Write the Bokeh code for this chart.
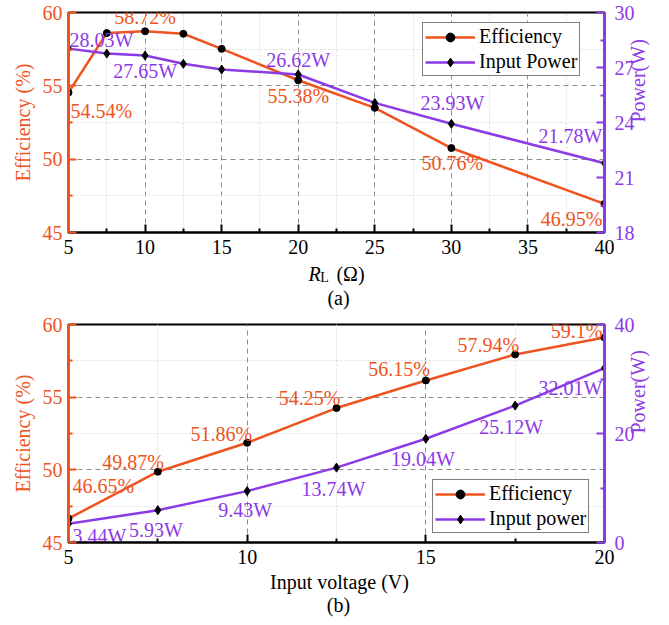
import math
from bokeh.plotting import figure
from bokeh.layouts import column
from bokeh.models import (Range1d, LinearAxis, FixedTicker, Legend, LegendItem,
                          Label, ColumnDataSource)
from bokeh.embed import file_html
from bokeh.resources import INLINE
from bokeh.core.properties import value

# ---- data: (a) load sweep ----
rl = [5, 7.5, 10, 12.5, 15, 20, 25, 30, 40]
eff_a = [54.54, 58.6, 58.72, 58.55, 57.52, 55.38, 53.5, 50.76, 46.95]
pwr_a = [28.03, 27.76, 27.65, 27.2, 26.89, 26.62, 25.07, 23.93, 21.78]

# ---- data: (b) input voltage sweep ----
vin = [5, 7.5, 10, 12.5, 15, 17.5, 20]
eff_b = [46.65, 49.87, 51.86, 54.25, 56.15, 57.94, 59.1]
pwr_b = [3.44, 5.93, 9.43, 13.74, 19.04, 25.12, 32.01]

ORANGE = "#EE5420"
PURPLE = "#8C3AE6"
FONT = "Liberation Serif"
FS = "20px"
W = 669


def style_fig(p, xticks, xminor, lticks, lminor, rname, rticks, rminor):
    p.outline_line_color = "black"
    p.outline_line_width = 2
    p.background_fill_color = "white"
    p.border_fill_color = "white"

    xa = p.xaxis[0]
    xa.ticker = FixedTicker(ticks=xticks, minor_ticks=xminor)
    xa.axis_line_color = "black"
    xa.axis_line_width = 2
    xa.major_tick_in = 8
    xa.major_tick_out = 0
    xa.minor_tick_in = 4
    xa.minor_tick_out = 0
    xa.major_tick_line_color = "black"
    xa.major_tick_line_width = 2
    xa.minor_tick_line_color = "black"
    xa.minor_tick_line_width = 2
    xa.major_label_text_font = FONT
    xa.major_label_text_font_size = FS
    xa.major_label_text_color = "black"
    xa.major_label_standoff = 7

    ya = p.yaxis[0]
    ya.ticker = FixedTicker(ticks=lticks, minor_ticks=lminor)
    ya.axis_line_color = ORANGE
    ya.axis_line_width = 3
    ya.major_tick_in = 8
    ya.major_tick_out = 0
    ya.minor_tick_in = 4
    ya.minor_tick_out = 0
    ya.major_tick_line_color = ORANGE
    ya.major_tick_line_width = 2
    ya.minor_tick_line_color = ORANGE
    ya.minor_tick_line_width = 2
    ya.major_label_text_font = FONT
    ya.major_label_text_font_size = FS
    ya.major_label_text_color = ORANGE
    ya.major_label_standoff = 6
    ya.axis_label = "Efficiency (%)"
    ya.axis_label_text_font = FONT
    ya.axis_label_text_font_size = FS
    ya.axis_label_text_font_style = "normal"
    ya.axis_label_text_color = ORANGE
    ya.axis_label_standoff = 6

    ra = LinearAxis(y_range_name=rname,
                    ticker=FixedTicker(ticks=rticks, minor_ticks=rminor))
    ra.axis_line_color = PURPLE
    ra.axis_line_width = 3
    ra.major_tick_in = 8
    ra.major_tick_out = 0
    ra.minor_tick_in = 4
    ra.minor_tick_out = 0
    ra.major_tick_line_color = PURPLE
    ra.major_tick_line_width = 2
    ra.minor_tick_line_color = PURPLE
    ra.minor_tick_line_width = 2
    ra.major_label_text_font = FONT
    ra.major_label_text_font_size = FS
    ra.major_label_text_color = PURPLE
    ra.major_label_standoff = 10
    ra.axis_label = "Power(W)"
    ra.axis_label_text_font = FONT
    ra.axis_label_text_font_size = FS
    ra.axis_label_text_font_style = "normal"
    ra.axis_label_text_color = PURPLE
    ra.axis_label_standoff = 0
    ra.axis_label_orientation = math.pi / 2
    p.add_layout(ra, "right")

    for g in (p.xgrid[0], p.ygrid[0]):
        g.grid_line_color = "#8c8c8c"
        g.grid_line_dash = "5 4"
        g.grid_line_width = 1
        g.minor_grid_line_color = "#dcdcdc"
        g.minor_grid_line_dash = "2 2"
        g.minor_grid_line_width = 1


def add_series(p, x, ye, yp, rname):
    le = p.line(x, ye, line_color=ORANGE, line_width=2.5)
    me = p.scatter(x, ye, marker="circle", size=7, fill_color="black",
                   line_color="black")
    lp = p.line(x, yp, line_color=PURPLE, line_width=2.5, y_range_name=rname)
    mp = p.scatter(x, yp, marker="diamond", size=9, fill_color="black",
                   line_color="black", y_range_name=rname)
    return [le, me], [lp, mp]


def add_labels(p, x, y, fmt, color, places, rname="default"):
    # places: per-point (align, dx, dy) or None to skip
    for xi, yi, pl in zip(x, y, places):
        if pl is None:
            continue
        align, dx, dy = pl
        src = ColumnDataSource(dict(x=[xi], y=[yi], t=[fmt(yi)]))
        p.text("x", "y", text="t", source=src, y_range_name=rname,
               x_offset=dx, y_offset=dy, text_align=align,
               text_baseline="middle", text_color=color,
               text_font=value(FONT), text_font_size=FS)


def add_legend(p, items, loc):
    leg = Legend(items=items, location=loc)
    leg.label_text_font = FONT
    leg.label_text_font_size = FS
    leg.label_text_color = "black"
    leg.border_line_color = "black"
    leg.border_line_width = 1.5
    leg.background_fill_alpha = 1
    leg.padding = 2
    leg.spacing = 2
    leg.margin = 0
    leg.glyph_width = 50
    leg.glyph_height = 22
    leg.label_height = 22
    leg.label_standoff = 4
    p.add_layout(leg)


def caption_strip(height):
    # blank strip under a chart that carries its axis title and panel tag
    s = figure(width=W, height=height, x_range=Range1d(0, W),
               y_range=Range1d(0, height), output_backend="svg",
               toolbar_location=None, x_axis_location=None,
               y_axis_location=None, min_border=0)
    s.grid.visible = False
    s.outline_line_color = None
    s.background_fill_color = "white"
    s.border_fill_color = "white"
    return s


def strip_label(s, x, y, text, size=FS, style="normal"):
    # x from the strip frame's left, y from the strip's bottom
    s.add_layout(Label(x=x, y=y, x_units="screen", y_units="screen", text=text,
                       text_font=FONT, text_font_size=size,
                       text_font_style=style, text_align="center",
                       text_baseline="middle", text_color="black"))


# ---------------- (a) ----------------
pa = figure(width=W, height=261, x_range=Range1d(5, 40), y_range=Range1d(45, 60),
            output_backend="svg", toolbar_location=None,
            min_border_left=68, min_border_right=65, min_border_top=12,
            min_border_bottom=29)
pa.extra_y_ranges = {"pw": Range1d(18, 30)}
style_fig(pa, [5, 10, 15, 20, 25, 30, 35, 40],
          [7.5, 12.5, 17.5, 22.5, 27.5, 32.5, 37.5],
          [45, 50, 55, 60], [47.5, 52.5, 57.5],
          "pw", [18, 21, 24, 27, 30], [19.5, 22.5, 25.5, 28.5])
ea, pwa = add_series(pa, rl, eff_a, pwr_a, "pw")

eff_a_places = [("left", 2, 18), None, ("center", 0, -14), None, None,
                ("center", 0, 16), None, ("center", 1, 15), ("right", -2, 15)]
pwr_a_places = [("left", 1, -9), None, ("center", 0, 15), None, None,
                ("center", 0, -14), None, ("center", 1, -21), ("right", -2, -27)]
add_labels(pa, rl, eff_a, lambda v: f"{v:.2f}%", ORANGE, eff_a_places)
add_labels(pa, rl, pwr_a, lambda v: f"{v:.2f}W", PURPLE, pwr_a_places, "pw")

add_legend(pa, [LegendItem(label="Efficiency", renderers=ea),
                LegendItem(label="Input Power", renderers=pwa)], (354, 156))

sa = caption_strip(51)
strip_label(sa, 246, 39, "R", style="italic")
strip_label(sa, 256, 35, "L", size="14px")
strip_label(sa, 282, 39, "(Ω)")
strip_label(sa, 270, 15, "(a)")

# ---------------- (b) ----------------
pb = figure(width=W, height=259, x_range=Range1d(5, 20), y_range=Range1d(45, 60),
            output_backend="svg", toolbar_location=None,
            min_border_left=68, min_border_right=65, min_border_top=12,
            min_border_bottom=29)
pb.extra_y_ranges = {"pw": Range1d(0, 40)}
style_fig(pb, [5, 10, 15, 20], [7.5, 12.5, 17.5],
          [45, 50, 55, 60], [47.5, 52.5, 57.5],
          "pw", [0, 20, 40], [10, 30])
eb, pwb = add_series(pb, vin, eff_b, pwr_b, "pw")

eff_b_places = [("left", 4, -33), ("right", 6, -10), ("right", 5, -9),
                ("right", 4, -10), ("right", 4, -11), ("right", 4, -9),
                ("right", -2, -7)]
pwr_b_places = [("left", 4, 12), ("center", -2, 20), ("center", -2, 19),
                ("center", -3, 21), ("center", -3, 20), ("center", -4, 21),
                ("right", -2, 20)]
add_labels(pb, vin, eff_b,
           lambda v: (f"{v:.2f}%" if round(v * 100) % 10 else f"{v:.1f}%"),
           ORANGE, eff_b_places)
add_labels(pb, vin, pwr_b, lambda v: f"{v:.2f}W", PURPLE, pwr_b_places, "pw")

add_legend(pb, [LegendItem(label="Efficiency", renderers=eb),
                LegendItem(label="Input power", renderers=pwb)], (364, 9))

sb = caption_strip(54)
strip_label(sb, 271, 44, "Input voltage (V)")
strip_label(sb, 270, 21, "(b)")

layout = column(pa, sa, pb, sb, spacing=0)
open("out.html", "w").write(file_html(layout, INLINE))
